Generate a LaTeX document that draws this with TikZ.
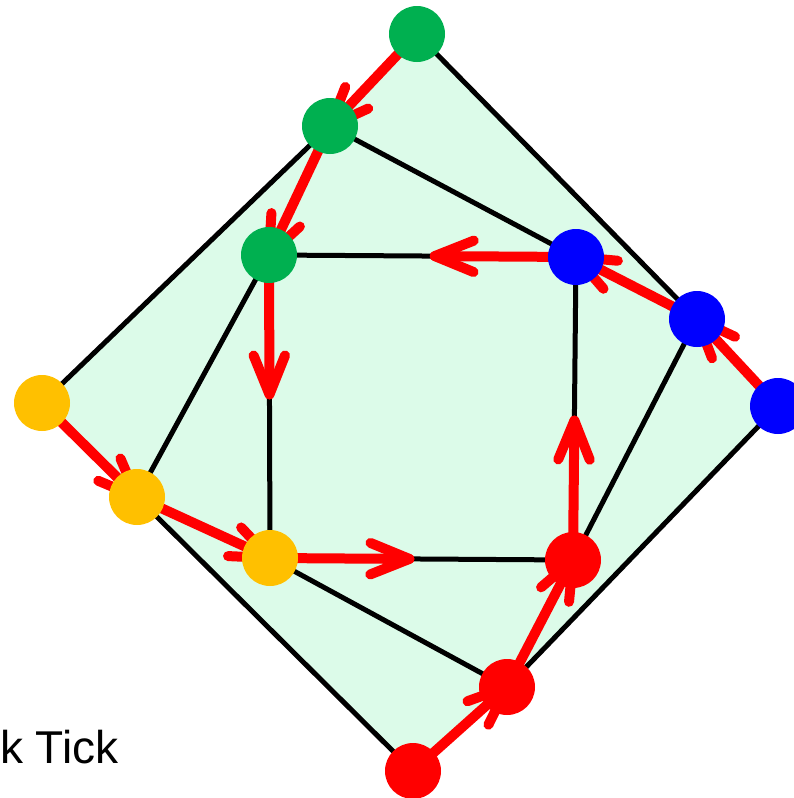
\documentclass[tikz,border=0pt]{standalone}
\usepackage{fontspec}
\setmainfont{Liberation Sans}
\usetikzlibrary{calc}
\pgfdeclarelayer{bg}
\pgfsetlayers{bg,main}
\definecolor{gr}{RGB}{0,176,80}
\definecolor{ye}{RGB}{255,192,0}
\definecolor{bl}{RGB}{0,0,255}
\definecolor{rd}{RGB}{255,0,0}
\definecolor{mint}{RGB}{220,251,233}
\newcommand\myFullArrow[2]{%
  \draw[edgered] (#1.center) -- (#2.center);
  \draw[edgered] ($(#2.center)!42pt!22:(#1.center)$) -- (#2.center) -- ($(#2.center)!42pt!-22:(#1.center)$);}
\newcommand\myHalfArrow[2]{%
  \draw[edgered] (#1.center) -- ($(#1.center)!0.46!(#2.center)$) coordinate (tip);
  \draw[edgered] ($(tip)!42pt!22:(#1.center)$) -- (tip) -- ($(tip)!42pt!-22:(#1.center)$);}
\begin{document}
\begin{tikzpicture}[x=1pt,y=-1pt,
  vtx/.style={circle,minimum size=56pt,inner sep=0pt,fill=#1},
  edgeblk/.style={line width=5pt,black},
  edgered/.style={line width=10pt,rd,line cap=round,line join=round}]
\useasboundingbox (0,0) rectangle (793,798);
% vertices
\node[vtx=gr] (G1) at (417,34) {};
\node[vtx=gr] (G2) at (330,126) {};
\node[vtx=gr] (G3) at (269,255) {};
\node[vtx=bl] (B1) at (576,257) {};
\node[vtx=bl] (B2) at (697,319) {};
\node[vtx=bl] (B3) at (778,406) {};
\node[vtx=ye] (Y1) at (42,403) {};
\node[vtx=ye] (Y2) at (137,497) {};
\node[vtx=ye] (Y3) at (270,558) {};
\node[vtx=rd] (R1) at (573,560) {};
\node[vtx=rd] (R2) at (507,687) {};
\node[vtx=rd] (R3) at (413,771) {};
\node[anchor=base west,inner sep=0pt,font=\fontsize{46}{52}\selectfont] (lbl) at (0,763) {k Tick};
\begin{pgfonlayer}{bg}
\fill[mint] (G1.center) -- (B2.center) -- (B3.center) -- (R2.center) -- (R3.center) -- (Y2.center) -- (Y1.center) -- (G2.center) -- cycle;
\draw[edgeblk] (G1.center) -- (B2.center);
\draw[edgeblk] (G2.center) -- (Y1.center);
\draw[edgeblk] (G2.center) -- (B1.center);
\draw[edgeblk] (G3.center) -- (Y2.center);
\draw[edgeblk] (G3.center) -- (B1.center);
\draw[edgeblk] (G3.center) -- (Y3.center);
\draw[edgeblk] (Y2.center) -- (R3.center);
\draw[edgeblk] (Y3.center) -- (R2.center);
\draw[edgeblk] (Y3.center) -- (R1.center);
\draw[edgeblk] (R1.center) -- (B1.center);
\draw[edgeblk] (R1.center) -- (B2.center);
\draw[edgeblk] (R2.center) -- (B3.center);
\myFullArrow{G1}{G2}
\myFullArrow{G2}{G3}
\myFullArrow{Y1}{Y2}
\myFullArrow{Y2}{Y3}
\myFullArrow{R3}{R2}
\myFullArrow{R2}{R1}
\myFullArrow{B3}{B2}
\myFullArrow{B2}{B1}
\myHalfArrow{G3}{Y3}
\myHalfArrow{Y3}{R1}
\myHalfArrow{R1}{B1}
\myHalfArrow{B1}{G3}
\end{pgfonlayer}
\end{tikzpicture}
\end{document}
